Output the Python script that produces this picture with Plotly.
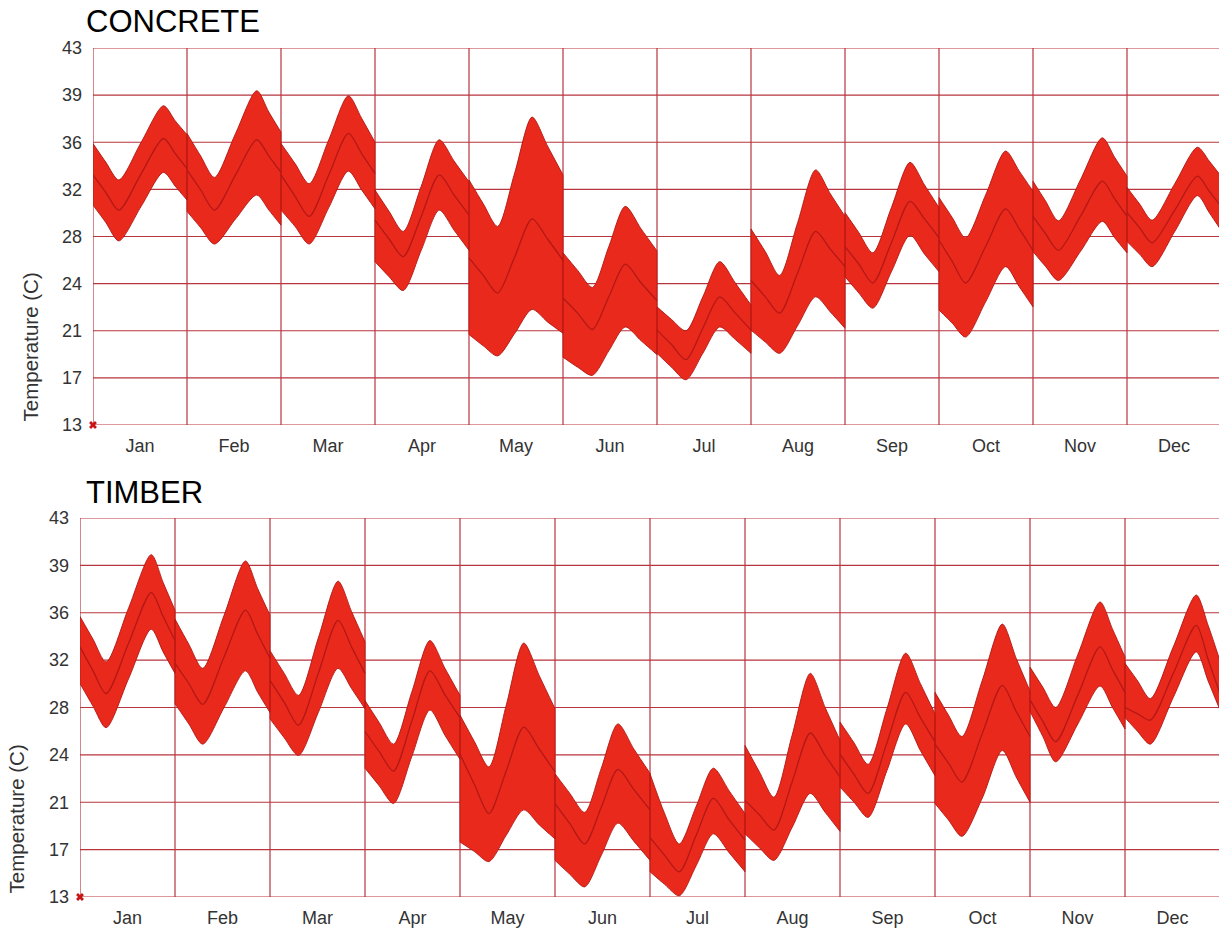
import plotly.graph_objects as go

# ---------------------------------------------------------------- data
MONTHS = ["Jan", "Feb", "Mar", "Apr", "May", "Jun",
          "Jul", "Aug", "Sep", "Oct", "Nov", "Dec"]

Y_TICKS = [13, 16.75, 20.5, 24.25, 28, 31.75, 35.5, 39.25, 43]
Y_TICK_TEXT = ["13", "17", "21", "24", "28", "32", "36", "39", "43"]

# hour of the daily minimum and of the afternoon peak, per month
MIN_HOUR = [6.6, 7.0, 7.2, 7.2, 7.3, 7.5, 7.4, 7.3, 7.1, 6.8, 6.5, 6.4]
PEAK_HOUR = [18.0, 17.8, 17.2, 16.4, 16.1, 15.9, 16.0, 16.5, 16.6, 17.0, 17.7, 18.0]

# each month: [00h, mid-morning fall, minimum, mid-rise, peak, evening, 24h]
CONCRETE_MAX = [
    [35.4, 33.9, 32.5, 35.5, 38.4, 37.2, 36.1],
    [36.2, 34.4, 32.7, 36.2, 39.6, 37.9, 36.3],
    [35.4, 33.8, 32.2, 35.7, 39.2, 37.4, 35.5],
    [31.7, 30.0, 28.4, 32.0, 35.7, 34.0, 32.35],
    [32.5, 30.6, 28.8, 33.1, 37.5, 35.2, 32.9],
    [26.7, 25.3, 23.95, 27.2, 30.4, 28.6, 26.85],
    [22.4, 21.4, 20.5, 23.2, 26.0, 24.3, 22.55],
    [28.6, 26.8, 24.9, 29.1, 33.3, 31.4, 29.6],
    [29.9, 28.3, 26.7, 30.3, 33.9, 32.1, 30.3],
    [31.1, 29.5, 27.9, 31.3, 34.8, 33.2, 31.6],
    [32.4, 30.8, 29.25, 32.5, 35.85, 34.3, 32.8],
    [31.9, 30.6, 29.3, 32.2, 35.1, 34.0, 32.8],
]
CONCRETE_MEAN = [
    [32.9, 31.5, 30.1, 33.0, 35.8, 34.6, 33.4],
    [33.3, 31.7, 30.1, 32.9, 35.7, 34.4, 33.1],
    [32.9, 31.2, 29.6, 32.9, 36.2, 34.6, 33.0],
    [29.3, 27.8, 26.4, 29.6, 32.9, 31.3, 29.7],
    [26.3, 24.9, 23.5, 26.4, 29.4, 27.8, 26.1],
    [23.1, 21.9, 20.6, 23.2, 25.8, 24.3, 22.9],
    [20.55, 19.4, 18.2, 20.7, 23.2, 21.9, 20.55],
    [24.5, 23.2, 21.9, 25.1, 28.4, 27.0, 25.6],
    [27.2, 25.8, 24.3, 27.5, 30.8, 29.4, 27.9],
    [27.7, 26.0, 24.3, 27.2, 30.2, 28.6, 26.9],
    [29.6, 28.2, 26.9, 29.6, 32.4, 31.0, 29.6],
    [29.9, 28.7, 27.5, 30.1, 32.8, 31.6, 30.4],
]
CONCRETE_MIN = [
    [30.5, 29.1, 27.65, 30.4, 33.1, 32.0, 30.9],
    [30.0, 28.7, 27.4, 29.4, 31.3, 30.1, 28.9],
    [30.1, 28.8, 27.4, 30.3, 33.2, 31.7, 30.2],
    [26.0, 24.8, 23.7, 26.9, 30.1, 28.5, 26.9],
    [20.2, 19.3, 18.5, 20.3, 22.2, 21.2, 20.3],
    [18.4, 17.6, 16.95, 18.9, 20.8, 19.7, 18.6],
    [18.7, 17.6, 16.6, 18.7, 20.8, 19.8, 18.7],
    [20.55, 19.6, 18.7, 20.9, 23.2, 22.0, 20.7],
    [24.8, 23.5, 22.3, 25.2, 28.1, 26.6, 25.2],
    [22.15, 21.1, 20.0, 22.8, 25.6, 24.0, 22.4],
    [26.8, 25.6, 24.5, 26.8, 29.2, 27.9, 26.7],
    [27.6, 26.6, 25.6, 28.4, 31.25, 29.9, 28.5],
]

TIMBER_MAX = [
    [35.2, 33.4, 31.6, 35.9, 40.1, 37.9, 35.7],
    [35.0, 33.0, 31.1, 35.3, 39.6, 37.4, 35.3],
    [32.5, 30.7, 28.96, 33.5, 38.0, 35.6, 33.2],
    [28.55, 26.8, 25.1, 29.2, 33.3, 31.1, 28.96],
    [27.4, 25.3, 23.3, 28.2, 33.1, 30.5, 27.9],
    [22.76, 21.2, 19.7, 23.2, 26.7, 24.7, 22.8],
    [22.76, 19.6, 17.2, 20.2, 23.2, 21.4, 19.6],
    [25.0, 22.9, 20.9, 25.8, 30.7, 28.0, 25.4],
    [26.85, 25.2, 23.5, 27.9, 32.3, 29.9, 27.5],
    [29.2, 27.4, 25.7, 30.1, 34.6, 31.9, 29.3],
    [31.2, 29.6, 28.0, 32.2, 36.35, 34.2, 32.0],
    [31.5, 30.1, 28.7, 32.8, 36.9, 34.5, 31.7],
]
TIMBER_MEAN = [
    [32.8, 30.9, 29.1, 33.1, 37.1, 35.2, 33.3],
    [31.5, 29.9, 28.25, 32.0, 35.7, 33.8, 31.9],
    [30.15, 28.4, 26.6, 30.7, 34.9, 32.8, 30.7],
    [26.1, 24.5, 22.97, 26.9, 30.9, 29.0, 27.2],
    [24.3, 21.9, 19.6, 23.0, 26.45, 24.7, 22.9],
    [20.4, 18.8, 17.2, 20.1, 23.1, 21.5, 19.9],
    [17.7, 16.3, 15.0, 17.9, 20.8, 19.1, 17.5],
    [20.65, 19.5, 18.3, 22.1, 25.98, 24.2, 22.5],
    [24.3, 22.7, 21.2, 25.2, 29.2, 27.2, 25.3],
    [25.1, 23.6, 22.1, 25.9, 29.75, 27.7, 25.7],
    [28.6, 26.9, 25.3, 29.0, 32.8, 31.0, 29.2],
    [28.0, 27.5, 27.0, 30.7, 34.5, 31.8, 29.1],
]
TIMBER_MIN = [
    [29.9, 28.1, 26.4, 30.3, 34.2, 32.4, 30.7],
    [28.3, 26.7, 25.1, 28.0, 30.9, 29.2, 27.6],
    [27.1, 25.6, 24.2, 27.6, 31.1, 29.5, 27.9],
    [23.2, 21.8, 20.4, 24.1, 27.8, 25.8, 23.9],
    [17.35, 16.6, 15.8, 17.9, 19.9, 18.7, 17.6],
    [15.9, 14.8, 13.8, 16.3, 18.85, 17.4, 15.9],
    [15.0, 14.0, 13.1, 15.5, 18.0, 16.5, 15.0],
    [18.0, 16.9, 15.9, 18.5, 21.2, 19.7, 18.2],
    [21.7, 20.5, 19.3, 23.0, 26.7, 24.6, 22.6],
    [20.4, 19.1, 17.8, 20.8, 24.6, 22.5, 20.5],
    [27.7, 25.7, 23.7, 26.7, 29.7, 28.0, 26.3],
    [27.2, 26.1, 25.1, 28.8, 32.4, 30.1, 27.8],
]

# ---------------------------------------------------------------- style
BAND = "rgb(233,41,28)"
EDGE = "rgb(175,22,18)"
MEAN = "rgb(180,24,22)"
GRID = "rgb(184,52,62)"
FONT = "Liberation Sans, Arial, Helvetica, sans-serif"
W, H = 1219, 934


def sample_hours(m):
    t0, t1 = MIN_HOUR[m], PEAK_HOUR[m]
    return [0, t0 / 2, t0, (t0 + t1) / 2, t1, (t1 + 24) / 2, 24]


def add_panel(fig, maxs, means, mins, xa, ya):
    common = dict(xaxis=xa, yaxis=ya, showlegend=False, hoverinfo="skip")
    edge_x, edge_y = [], []
    for m in range(12):
        xs = [m + h / 24 for h in sample_hours(m)]
        fig.add_trace(go.Scatter(
            x=xs, y=mins[m], mode="lines",
            line=dict(color=EDGE, width=0.9, shape="spline", smoothing=0.8),
            **common))
        fig.add_trace(go.Scatter(
            x=xs, y=maxs[m], mode="lines", fill="tonexty", fillcolor=BAND,
            line=dict(color=EDGE, width=0.9, shape="spline", smoothing=0.8),
            **common))
        edge_x += [m, m, None, m + 1, m + 1, None]
        edge_y += [mins[m][0], maxs[m][0], None, mins[m][-1], maxs[m][-1], None]
    fig.add_trace(go.Scatter(x=edge_x, y=edge_y, mode="lines",
                             line=dict(color=EDGE, width=0.8), **common))
    for m in range(12):
        xs = [m + h / 24 for h in sample_hours(m)]
        fig.add_trace(go.Scatter(
            x=xs, y=means[m], mode="lines",
            line=dict(color=MEAN, width=1.3, shape="spline", smoothing=0.8),
            **common))
    # origin marker
    fig.add_trace(go.Scatter(
        x=[0], y=[13], mode="markers", cliponaxis=False,
        marker=dict(symbol="x", size=7, color="rgb(200,20,20)",
                    line=dict(width=0)),
        **common))


def grid_shapes(xa, ya):
    shapes = []
    for m in range(13):
        shapes.append(dict(type="line", xref=xa, yref=f"{ya} domain",
                           x0=m, x1=m, y0=0, y1=1, layer="below",
                           line=dict(color=GRID, width=1.2)))
    for v in Y_TICKS:
        shapes.append(dict(type="line", xref=f"{xa} domain", yref=ya,
                           x0=0, x1=1, y0=v, y1=v, layer="below",
                           line=dict(color=GRID, width=1.2)))
    return shapes


fig = go.Figure()
add_panel(fig, CONCRETE_MAX, CONCRETE_MEAN, CONCRETE_MIN, "x", "y")
add_panel(fig, TIMBER_MAX, TIMBER_MEAN, TIMBER_MIN, "x2", "y2")


def xaxis_cfg(left_px, px_per_month, anchor):
    right = (W - left_px) / px_per_month
    return dict(
        domain=[left_px / W, 1], range=[0, right], anchor=anchor,
        tickmode="array", tickvals=[i + 0.5 for i in range(12)], ticktext=MONTHS,
        showgrid=False, zeroline=False, showline=False, ticks="",
        ticklabelstandoff=8, automargin=False,
        tickfont=dict(family=FONT, size=18, color="#333"),
    )


def yaxis_cfg(top_px, bottom_px, anchor):
    return dict(
        domain=[1 - bottom_px / H, 1 - top_px / H], range=[13, 43],
        tickmode="array", tickvals=Y_TICKS, ticktext=Y_TICK_TEXT,
        showgrid=False, zeroline=False, showline=False, ticks="",
        ticklabelstandoff=10, automargin=False,
        tickfont=dict(family=FONT, size=18, color="#333"), anchor=anchor,
    )


fig.update_layout(
    width=W, height=H, margin=dict(l=0, r=0, t=0, b=0, autoexpand=False),
    paper_bgcolor="white", plot_bgcolor="white", showlegend=False,
    xaxis=xaxis_cfg(93, 94.0, "y"),
    yaxis=yaxis_cfg(48, 425, "x"),
    xaxis2=xaxis_cfg(80, 95.0, "y2"),
    yaxis2=yaxis_cfg(518, 897, "x2"),
    shapes=grid_shapes("x", "y") + grid_shapes("x2", "y2"),
    annotations=[
        dict(text="CONCRETE", x=84 / W, y=1 - 22 / H, xref="paper", yref="paper",
             xanchor="left", yanchor="middle", showarrow=False,
             font=dict(family=FONT, size=31, color="black")),
        dict(text="TIMBER", x=84 / W, y=1 - 492 / H, xref="paper", yref="paper",
             xanchor="left", yanchor="middle", showarrow=False,
             font=dict(family=FONT, size=31, color="black")),
        dict(text="Temperature (C)", x=30 / W, y=1 - 424 / H, xref="paper",
             yref="paper", xanchor="center", yanchor="bottom", textangle=-90,
             showarrow=False, font=dict(family=FONT, size=20.5, color="#333")),
        dict(text="Temperature (C)", x=16 / W, y=1 - 896 / H, xref="paper",
             yref="paper", xanchor="center", yanchor="bottom", textangle=-90,
             showarrow=False, font=dict(family=FONT, size=20.5, color="#333")),
    ],
)

fig.write_html("out.html")
